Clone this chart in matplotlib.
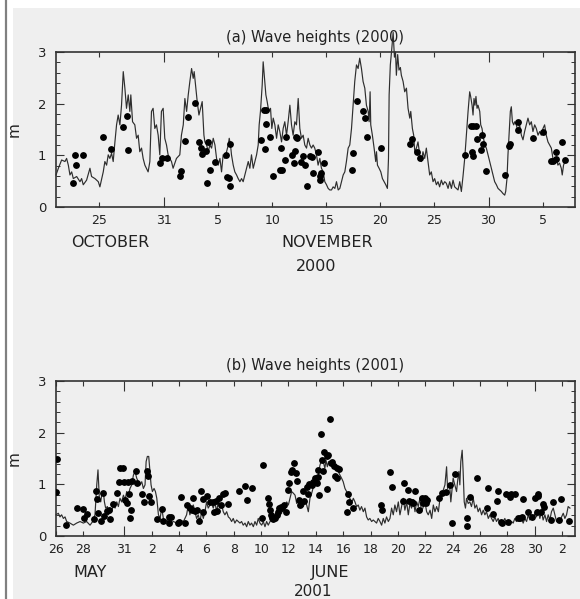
import numpy as np
import matplotlib
matplotlib.use("Agg")
import matplotlib.pyplot as plt
from matplotlib.patches import Rectangle
from matplotlib.lines import Line2D
from matplotlib.ticker import MultipleLocator
from datetime import datetime, timedelta

# ---- (a) autumn 2000: days since 21 Oct 2000 ----
start_a = datetime(2000, 10, 21)

a_line_day = [
    0.00, 0.22, 0.52, 0.83, 0.98, 1.14, 1.29, 1.45, 1.60, 1.91,
    2.22, 2.37, 2.52, 2.83, 3.14, 3.29, 3.60, 3.91, 4.06, 4.37,
    4.52, 4.68, 4.83, 4.98, 5.14, 5.29, 5.45, 5.60, 5.75, 5.91,
    6.06, 6.22, 6.37, 6.52, 6.68, 6.83, 6.92, 7.08, 7.29, 7.45,
    7.60, 7.75, 7.91, 8.06, 8.22, 8.52, 8.68, 8.83, 8.98, 9.14,
    9.29, 9.45, 9.60, 9.75, 9.91, 10.06, 10.22, 10.37, 10.52, 10.68,
    10.83, 11.14, 11.45, 11.60,
    11.77, 11.92, 12.08, 12.23, 12.38, 12.54, 12.69, 12.78, 12.94, 13.06,
    13.22, 13.37, 13.52, 13.68, 13.77, 13.93, 14.08, 14.23, 14.39, 14.54,
    14.70, 14.85, 15.00, 15.16, 15.31, 15.46, 15.62, 15.77, 15.93, 16.02,
    16.14, 16.23, 16.39, 16.54, 16.70, 16.85, 17.01, 17.16, 17.31, 17.47,
    17.62, 17.78, 17.93, 18.08, 18.24, 18.39, 18.55, 18.70, 18.79, 18.91,
    19.07, 19.16, 19.31, 19.41, 19.53, 19.68, 19.84, 19.96, 20.09, 20.24,
    20.40, 20.55, 20.70, 20.86, 21.01, 21.16, 21.32, 21.47, 21.63, 21.78,
    21.93, 22.09, 22.24, 22.40, 22.55, 22.70, 22.86, 23.01, 23.17, 23.32,
    23.48, 23.63, 23.78,
    23.93, 24.09, 24.24, 24.40, 24.55, 24.71, 24.86, 25.02, 25.17, 25.32,
    25.48, 25.63, 25.79, 25.94, 26.10, 26.25, 26.40, 26.56, 26.71, 26.86,
    27.02, 27.17, 27.33, 27.48, 27.63, 27.79, 27.94, 28.09, 28.25, 28.40,
    28.56, 28.71, 28.87, 28.96, 29.05, 29.11, 29.26, 29.42, 29.57, 29.64,
    29.73, 29.88, 30.04, 30.19, 30.35, 30.50, 30.65, 30.75, 30.81, 30.92,
    31.05, 31.18, 31.30, 31.40, 31.48, 31.60, 31.72, 31.85, 31.94, 32.10,
    32.25, 32.41, 32.56, 32.72, 32.81, 32.96, 33.08, 33.18, 33.33, 33.48,
    33.64, 33.79, 33.94, 34.10, 34.25, 34.41, 34.56, 34.71, 34.87, 35.02,
    35.18, 35.33, 35.48, 35.64, 35.79, 35.95,
    36.10, 36.26, 36.41, 36.57, 36.72, 36.87, 37.03, 37.18, 37.34, 37.49,
    37.64, 37.80, 37.95, 38.11, 38.26, 38.35, 38.48, 38.57, 38.66, 38.75,
    38.84, 38.94, 39.03, 39.19, 39.28, 39.40, 39.49, 39.65, 39.80, 39.96,
    40.11, 40.26, 40.42, 40.57, 40.73, 40.88, 41.04, 41.19, 41.34, 41.50,
    41.59, 41.71, 41.80, 41.90, 42.02, 42.11, 42.21, 42.33, 42.42, 42.57,
    42.73, 42.88, 43.04, 43.19, 43.34, 43.50, 43.65, 43.81, 43.96, 44.11,
    44.27, 44.42, 44.58, 44.73, 44.88, 45.04, 45.19, 45.34, 45.50, 45.65,
    45.81, 45.96, 46.11, 46.27, 46.42, 46.57, 46.73, 46.82, 46.94, 47.07,
]
a_line_hs = [
    0.62, 0.75, 0.91, 0.88, 0.94, 0.81, 0.62, 0.68, 0.55, 0.59,
    0.49, 0.55, 0.43, 0.52, 0.75, 0.59, 0.55, 0.49, 0.39, 0.68,
    0.88, 0.81, 1.01, 0.94, 1.04, 0.88, 1.26, 1.59, 1.78, 1.59,
    1.97, 2.62, 2.30, 1.91, 2.17, 1.85, 2.17, 1.65, 1.59, 1.33,
    1.39, 1.07, 1.14, 0.94, 0.81, 0.68, 0.88, 1.85, 1.91, 1.52,
    1.59, 1.39, 1.01, 1.85, 1.91, 1.33, 1.20, 1.01, 0.94, 0.88,
    0.75, 0.94, 1.01, 1.39,
    1.59, 2.10, 1.85, 2.17, 2.43, 2.68, 2.49, 2.62, 2.30, 2.04,
    1.78, 1.91, 2.04, 1.39, 1.26, 1.20, 1.07, 1.20, 1.14, 1.33,
    1.20, 0.94, 0.81, 0.94, 0.68, 1.01, 0.94, 1.07, 1.20, 1.33,
    1.20, 1.01, 0.81, 0.68, 0.62, 0.55, 0.49, 0.55, 0.49, 0.62,
    0.75, 0.88, 0.75, 1.01, 0.75, 0.88, 1.01, 1.20, 1.59, 1.85,
    2.36, 2.81, 2.43, 2.17, 2.04, 1.85, 1.91, 1.52, 1.72, 1.59,
    1.33, 1.59, 1.46, 1.26, 1.52, 1.65, 1.39, 1.65, 1.97, 1.59,
    1.39, 1.65, 1.59, 2.10, 1.52, 1.33, 1.39, 1.20, 1.14, 1.33,
    1.20, 1.14, 1.20,
    1.14, 1.01, 0.81, 0.94, 0.75, 0.68, 0.49, 0.43, 0.36, 0.33,
    0.33, 0.39, 0.36, 0.49, 0.33, 0.36, 0.49, 0.62, 0.68, 0.88,
    1.14, 1.20, 1.52, 1.97, 2.43, 2.75, 2.68, 2.88, 2.68, 2.43,
    2.30, 1.97, 1.85, 1.65, 2.23, 1.59, 1.39, 1.14, 0.88, 1.07,
    0.81, 0.75, 0.68, 0.55, 0.49, 0.43, 0.36, 0.94, 2.17, 2.75,
    3.05, 3.38, 2.90, 3.00, 2.55, 2.95, 2.65, 2.70, 2.55, 2.43,
    2.23, 2.30, 1.91, 1.72, 1.85, 1.52, 1.39, 1.07, 1.14, 1.26,
    1.01, 0.88, 1.07, 0.94, 1.14, 0.88, 0.62, 0.68, 0.49, 0.55,
    0.43, 0.49, 0.39, 0.52, 0.43, 0.49,
    0.46, 0.36, 0.49, 0.36, 0.52, 0.39, 0.36, 0.33, 0.49, 0.30,
    0.59, 0.94, 1.39, 1.85, 2.23, 2.14, 1.97, 1.78, 2.10, 1.97,
    2.14, 1.91, 1.97, 1.85, 1.59, 1.52, 1.39, 1.20, 1.14, 1.01,
    0.88, 0.75, 0.62, 0.49, 0.43, 0.36, 0.33, 0.30, 0.26, 0.23,
    0.30, 0.55, 1.01, 1.39, 1.85, 1.94, 1.65, 1.59, 1.65, 1.59,
    1.46, 1.59, 1.39, 1.30, 1.46, 1.59, 1.72, 1.59, 1.65, 1.46,
    1.59, 1.52, 1.39, 1.46, 1.39, 1.52, 1.59, 1.39, 1.26, 1.20,
    1.14, 0.94, 0.88, 0.94, 0.81, 0.85, 0.75, 0.62, 0.81, 0.88,
]

a_obs_day = [
    1.54, 1.79, 1.85, 2.53, 4.37, 5.08, 6.16, 6.59, 6.68, 9.61,
    9.76, 10.23, 11.46, 11.53, 11.96, 12.20, 12.84, 13.25, 13.40, 13.50,
    13.90, 14.10, 14.00, 14.20, 14.70, 15.70, 15.80, 16.00, 16.10, 16.10,
    19.00, 19.20, 19.40, 19.30, 19.45, 19.75, 20.10, 20.75, 20.90, 20.85,
    21.15, 21.30, 21.80, 22.00, 22.10, 22.20, 22.30, 22.70, 22.86, 23.01,
    23.17, 23.48, 23.72, 23.78, 24.24, 24.77, 24.55, 24.46, 24.40, 27.48,
    27.42, 27.88, 28.40, 28.62, 28.80, 30.04, 32.90, 32.77, 33.42, 33.67,
    37.86, 38.51, 38.57, 38.35, 38.57, 38.88, 38.94, 39.43, 39.52, 39.34,
    39.80, 41.52, 41.87, 41.96, 42.76, 42.73, 44.11, 45.04, 45.75, 45.96,
    46.27, 46.21, 46.83, 47.04,
]
a_obs_hs = [
    0.46, 1.01, 0.81, 1.00, 1.35, 1.13, 1.54, 1.77, 1.11, 0.85,
    0.94, 0.94, 0.60, 0.70, 1.28, 1.74, 2.02, 1.26, 1.14, 1.03,
    1.08, 1.26, 0.47, 0.72, 0.88, 1.00, 0.59, 0.57, 0.40, 1.21,
    1.29, 1.87, 1.87, 1.13, 1.61, 1.35, 0.60, 0.71, 0.71, 1.14,
    0.91, 1.36, 1.00, 0.86, 1.08, 1.36, 1.33, 0.88, 0.98, 0.81,
    0.40, 0.98, 0.97, 0.66, 1.06, 0.85, 0.66, 0.60, 0.52, 1.05,
    0.72, 2.05, 1.86, 1.72, 1.35, 1.15, 1.32, 1.21, 1.06, 0.94,
    1.01, 1.06, 0.99, 1.57, 1.57, 1.57, 1.31, 1.39, 1.21, 1.11,
    0.70, 0.62, 1.19, 1.22, 1.65, 1.49, 1.33, 1.45, 0.89, 0.89,
    0.92, 1.06, 1.25, 0.90,
]

a_ticks = [datetime(2000, 10, 25), datetime(2000, 10, 31), datetime(2000, 11, 5),
           datetime(2000, 11, 10), datetime(2000, 11, 15), datetime(2000, 11, 20),
           datetime(2000, 11, 25), datetime(2000, 11, 30), datetime(2000, 12, 5)]
a_ticklabels = ['25', '31', '5', '10', '15', '20', '25', '30', '5']

# ---- (b) early summer 2001: days since 26 May 2001 ----
start_b = datetime(2001, 5, 26)

b_line_day = [
    0.00, 0.17, 0.29, 0.41, 0.54, 0.66, 0.78, 1.02, 1.27, 1.51,
    1.76, 2.00, 2.24, 2.49, 2.68, 2.85, 2.98, 3.07, 3.17, 3.27,
    3.34, 3.46, 3.54, 3.63, 3.76, 3.83, 3.95, 4.07, 4.20, 4.32,
    4.44, 4.56, 4.68, 4.80, 4.93, 5.05, 5.17, 5.29, 5.41, 5.54,
    5.66, 5.78, 5.90, 6.02, 6.15, 6.27, 6.39, 6.51, 6.59, 6.68,
    6.78, 6.85, 6.95, 7.05, 7.17, 7.27, 7.37, 7.49, 7.61, 7.73,
    7.85, 7.98, 8.10, 8.34, 8.59, 8.83, 9.07, 9.32,
    9.55, 9.67, 9.79, 9.92, 10.04, 10.16, 10.28, 10.40, 10.53, 10.65,
    10.77, 10.89, 11.01, 11.13, 11.26, 11.38, 11.50, 11.62, 11.74, 11.87,
    11.99, 12.11, 12.23, 12.35, 12.48, 12.60, 12.72, 12.84, 12.96, 13.08,
    13.21, 13.33, 13.45, 13.57, 13.69, 13.82, 13.94, 14.06, 14.18, 14.30,
    14.43, 14.55, 14.67, 14.79, 14.91, 15.04, 15.16, 15.28, 15.40, 15.52,
    15.65, 15.77, 15.89, 16.01, 16.13, 16.26, 16.38, 16.50, 16.62, 16.74,
    16.87, 16.99, 17.11, 17.23, 17.35, 17.48, 17.60, 17.72, 17.84, 17.96,
    18.09, 18.21, 18.33, 18.45, 18.57, 18.70, 18.82,
    18.93, 19.05, 19.18, 19.30, 19.42, 19.54, 19.66, 19.74, 19.84, 19.93,
    20.03, 20.15, 20.27, 20.40, 20.52, 20.64, 20.76, 20.88, 21.00, 21.13,
    21.25, 21.37, 21.49, 21.61, 21.74, 21.86, 21.98, 22.10, 22.22, 22.34,
    22.47, 22.59, 22.71, 22.83, 22.95, 23.08, 23.20, 23.32, 23.44, 23.56,
    23.69, 23.81, 23.93, 24.05, 24.17, 24.30, 24.42, 24.54, 24.66, 24.78,
    24.90, 25.03, 25.15, 25.27, 25.39, 25.51, 25.64, 25.76, 25.88, 26.00,
    26.12, 26.25, 26.37, 26.49, 26.61, 26.73, 26.86, 26.98, 27.10, 27.22,
    27.35, 27.47, 27.59, 27.71, 27.83, 27.96, 28.08, 28.20, 28.32,
    28.44, 28.56, 28.63, 28.73, 28.80, 28.87, 28.97, 29.04, 29.16, 29.29,
    29.36, 29.46, 29.53, 29.60, 29.70, 29.77, 29.85, 29.94, 30.02, 30.14,
    30.26, 30.38, 30.51, 30.63, 30.75, 30.87, 30.99, 31.12, 31.24, 31.36,
    31.48, 31.61, 31.73, 31.85, 31.97, 32.09, 32.21, 32.33, 32.46, 32.58,
    32.70, 32.82, 32.94, 33.06, 33.19, 33.31, 33.43, 33.55, 33.67, 33.80,
    33.92, 34.04, 34.16, 34.28, 34.41, 34.53, 34.65, 34.77, 34.89, 35.02,
    35.14, 35.26, 35.38, 35.50, 35.62, 35.75, 35.87, 35.99, 36.11, 36.23,
    36.36, 36.48, 36.60, 36.72, 36.84, 36.97, 37.09, 37.21, 37.33, 37.45,
    37.58,
]
b_line_hs = [
    0.41, 0.44, 0.37, 0.41, 0.34, 0.37, 0.28, 0.25, 0.21, 0.25,
    0.28, 0.25, 0.28, 0.21, 0.28, 0.41, 0.99, 1.28, 0.73, 0.66,
    0.79, 0.86, 0.66, 0.54, 0.57, 0.41, 0.54, 0.47, 0.60, 0.54,
    0.66, 0.57, 0.73, 0.66, 0.79, 0.70, 0.86, 0.79, 0.92, 0.99,
    1.18, 1.25, 1.12, 1.05, 0.99, 1.05, 0.92, 0.99, 1.44, 1.54,
    1.54, 1.31, 0.99, 0.86, 0.92, 0.86, 0.73, 0.41, 0.34, 0.54,
    0.34, 0.28, 0.31, 0.25, 0.28, 0.25, 0.31, 0.28,
    0.41, 0.60, 0.41, 0.54, 0.60, 0.47, 0.34, 0.41, 0.28, 0.47,
    0.34, 0.47, 0.66, 0.54, 0.60, 0.63, 0.54, 0.66, 0.47, 0.66,
    0.54, 0.60, 0.47, 0.41, 0.47, 0.37, 0.34, 0.28, 0.34, 0.25,
    0.31, 0.28, 0.25, 0.28, 0.21, 0.25, 0.18, 0.28, 0.21, 0.25,
    0.18, 0.28, 0.21, 0.34, 0.25, 0.21, 0.28, 0.18, 0.28, 0.21,
    0.28, 0.31, 0.28, 0.34, 0.41, 0.37, 0.47, 0.44, 0.60, 0.54,
    0.66, 0.60, 0.73, 0.86, 0.83, 0.79, 0.63, 0.73, 0.60, 0.70,
    0.57, 0.66, 0.60, 0.47, 0.73, 0.83, 0.95,
    1.05, 1.12, 1.18, 1.37, 1.47, 1.44, 1.31, 1.47, 1.34, 1.44,
    1.37, 1.40, 1.34, 1.37, 1.31, 1.25, 1.18, 1.12, 1.05, 0.92,
    0.86, 0.79, 0.73, 0.63, 0.73, 0.66, 0.57, 0.60, 0.50, 0.57,
    0.47, 0.54, 0.37, 0.31, 0.34, 0.28, 0.31, 0.28, 0.25, 0.34,
    0.28, 0.21, 0.34, 0.25, 0.37, 0.28, 0.34, 0.54, 0.41, 0.60,
    0.47, 0.66, 0.41, 0.57, 0.73, 0.50, 0.66, 0.41, 0.63, 0.54,
    0.70, 0.47, 0.66, 0.57, 0.73, 0.47, 0.57, 0.66, 0.47, 0.41,
    0.50, 0.34, 0.60, 0.47, 0.57, 0.47, 0.73, 0.79, 0.89,
    0.99, 1.34, 0.92, 0.99, 0.92, 0.66, 0.92, 1.12, 0.99, 0.86,
    1.05, 1.25, 0.99, 1.44, 1.66, 1.25, 0.66, 0.54, 0.73, 0.63,
    0.66, 0.57, 0.73, 0.54, 0.60, 0.47, 0.54, 0.41, 0.50, 0.41,
    0.47, 0.34, 0.41, 0.34, 0.28, 0.37, 0.28, 0.34, 0.25, 0.31,
    0.28, 0.34, 0.25, 0.28, 0.21, 0.28, 0.25, 0.34, 0.28, 0.37,
    0.28, 0.34, 0.25, 0.34, 0.28, 0.41, 0.31, 0.41, 0.34, 0.44,
    0.37, 0.50, 0.34, 0.47, 0.31, 0.41, 0.28, 0.41, 0.31, 0.47,
    0.54, 0.41, 0.28, 0.34, 0.28, 0.37, 0.44, 0.34, 0.41, 0.57,
    0.54,
]

b_obs_day = [
    0.05, 0.00, 0.71, 1.51, 1.95, 2.07, 2.27, 2.80, 2.93, 3.00,
    3.10, 3.29, 3.41, 3.51, 3.71, 3.85, 3.95, 4.20, 4.49, 4.61,
    4.66, 4.90, 4.95, 5.07, 5.20, 5.27, 5.34, 5.44, 5.49, 5.54,
    5.85, 5.90, 6.32, 6.41, 6.63, 6.73, 6.83, 6.93, 7.41, 7.76,
    7.85, 8.27, 8.39, 8.27, 8.95, 9.17, 9.00, 9.40,
    9.60, 9.80, 9.92, 10.00, 10.16, 10.33, 10.48, 10.60, 10.72, 10.77,
    11.06, 11.26, 11.50, 11.57, 11.70, 11.74, 11.94, 12.04, 12.23, 12.36,
    12.60, 13.40, 13.84, 13.94, 14.33, 15.16, 15.09, 15.47, 15.59, 15.64,
    15.72, 15.79, 15.89, 16.01, 16.13, 16.20, 16.33, 16.45, 16.52, 16.67,
    16.81, 16.93, 17.06, 17.18, 17.28, 17.40, 17.54, 17.59, 17.74, 17.83,
    18.07, 18.13, 18.32, 18.44, 18.52, 18.69, 18.76, 18.93,
    19.05, 19.37, 20.03, 19.59, 19.42, 19.79, 19.91, 19.17, 19.13, 19.54,
    19.22, 19.84, 20.10, 20.18, 20.35, 20.52, 20.39, 20.58, 20.71, 21.32,
    21.25, 21.42, 21.74, 23.74, 23.83, 24.41, 24.59, 25.44, 25.75, 25.34,
    25.83, 26.00, 26.24, 26.12, 26.73, 26.98, 27.14, 26.85, 26.56, 27.09,
    27.99,
    28.19, 28.51, 28.80, 28.92, 29.16, 30.02, 30.07, 30.26, 30.75, 31.48,
    31.60, 31.97, 32.26, 32.33, 32.51, 32.58, 32.87, 33.06, 33.19, 33.26,
    33.55, 33.75, 33.92, 34.04, 34.16, 34.48, 34.77, 35.02, 35.14, 35.21,
    35.26, 35.50, 35.62, 35.67, 36.16, 36.36, 36.80, 36.92, 37.53,
]
b_obs_hs = [
    1.50, 0.85, 0.22, 0.55, 0.52, 0.34, 0.43, 0.33, 0.87, 0.72,
    0.44, 0.29, 0.84, 0.38, 0.48, 0.50, 0.33, 0.62, 0.83, 1.04,
    1.31, 1.31, 1.04, 0.69, 0.63, 1.04, 0.82, 0.35, 0.51, 1.06,
    1.25, 1.02, 0.81, 0.65, 1.26, 1.17, 0.77, 0.65, 0.32, 0.52,
    0.30, 0.37, 0.37, 0.26, 0.25, 0.76, 0.28, 0.25,
    0.60, 0.54, 0.50, 0.74, 0.48, 0.51, 0.30, 0.87, 0.72, 0.47,
    0.77, 0.66, 0.65, 0.46, 0.68, 0.48, 0.73, 0.60, 0.82, 0.83,
    0.62, 0.87, 0.97, 0.69, 0.92, 1.37, 0.35, 0.73, 0.62, 0.51,
    0.41, 0.35, 0.33, 0.35, 0.41, 0.47, 0.54, 0.57, 0.54, 0.60,
    0.47, 0.89, 1.02, 1.23, 1.28, 1.41, 1.21, 1.07, 0.70, 0.60,
    0.88, 0.68, 0.95, 0.81, 1.01, 0.99, 1.04, 1.13,
    1.02, 1.97, 2.26, 1.63, 1.47, 1.55, 1.57, 1.28, 1.15, 1.25,
    0.79, 0.91, 1.41, 1.43, 1.36, 1.31, 1.17, 1.12, 1.30, 0.81,
    0.47, 0.66, 0.55, 0.60, 0.50, 1.23, 0.94, 1.02, 0.90, 0.68,
    0.68, 0.66, 0.88, 0.63, 0.74, 0.73, 0.70, 0.63, 0.50, 0.63,
    0.73,
    0.83, 0.86, 0.99, 0.26, 1.20, 0.20, 0.35, 0.76, 1.12, 0.54,
    0.92, 0.42, 0.68, 0.87, 0.28, 0.26, 0.82, 0.28, 0.75, 0.81,
    0.81, 0.35, 0.35, 0.37, 0.71, 0.47, 0.37, 0.74, 0.47, 0.82,
    0.77, 0.46, 0.61, 0.57, 0.31, 0.66, 0.31, 0.72, 0.30,
]

b_ticks = [datetime(2001, 5, 26), datetime(2001, 5, 28), datetime(2001, 5, 31)] + \
          [datetime(2001, 6, d) for d in range(2, 31, 2)] + [datetime(2001, 7, 2)]
b_ticklabels = ['26', '28', '31'] + [str(d) for d in range(2, 31, 2)] + ['2']

W, H = 580, 599
BG = '#efefef'
INK = '#222222'


def dates(start, days):
    return [start + timedelta(days=d) for d in days]


def fx(px):
    return px / W


def fy(py):
    return 1 - py / H


fig = plt.figure(figsize=(W / 100, H / 100), dpi=100)
fig.patch.set_facecolor('white')
fig.add_artist(Rectangle((fx(13), 0), 1, fy(8), transform=fig.transFigure,
                         facecolor=BG, edgecolor='none', zorder=-10))
fig.add_artist(Line2D([fx(6), fx(6)], [0, 1], transform=fig.transFigure,
                      color='#808080', lw=1.6))


def panel(rect, start, span, ticks, labels, long_idx,
          line_day, line_hs, obs_day, obs_hs):
    ax = fig.add_axes(rect)
    ax.set_facecolor(BG)
    ax.plot(dates(start, line_day), line_hs, color='#2e2e2e', lw=0.85,
            clip_on=False, zorder=2)
    ax.plot(dates(start, obs_day), obs_hs, 'o', color='black', ms=3.9,
            mec='black', zorder=3)
    ax.set_xlim(start, start + timedelta(days=span))
    ax.set_ylim(0, 3)
    ax.set_xticks(ticks)
    ax.set_xticklabels(labels)
    ax.set_yticks([0, 1, 2, 3])
    ax.yaxis.set_minor_locator(MultipleLocator(0.2))
    ax.tick_params(which='both', direction='in', top=True, right=True,
                   color='#333333', labelcolor=INK)
    ax.tick_params(axis='x', which='major', length=3.5, width=0.8, pad=5, labelsize=9)
    ax.tick_params(axis='y', which='major', length=6, width=0.8, pad=7, labelsize=9.5)
    ax.tick_params(axis='y', which='minor', length=3, width=0.7)
    # month boundaries get the longer ticks
    for i, t in enumerate(ax.xaxis.get_major_ticks()):
        if i in long_idx:
            t.tick1line.set_markersize(7)
            t.tick2line.set_markersize(7)
    for s in ax.spines.values():
        s.set_color('#333333')
        s.set_linewidth(1.2)
    ax.set_ylabel('m', fontsize=11, color=INK)
    ax.yaxis.set_label_coords((22 - 56) / 519, 0.5)
    return ax


ax_a = panel([fx(56), fy(207), 519 / W, 155 / H], start_a, 48.0,
             a_ticks, a_ticklabels, [1, 7],
             a_line_day, a_line_hs, a_obs_day, a_obs_hs)
ax_b = panel([fx(56), fy(536), 519 / W, 155 / H], start_b, 37.95,
             b_ticks, b_ticklabels, [2, 17],
             b_line_day, b_line_hs, b_obs_day, b_obs_hs)

fig.text(fx(315.5), fy(41.7), '(a) Wave heights (2000)', ha='center', va='baseline',
         fontsize=10.5, color=INK)
fig.text(fx(315.5), fy(370), '(b) Wave heights (2001)', ha='center', va='baseline',
         fontsize=10.5, color=INK)

fig.text(fx(110), fy(247), 'OCTOBER', ha='center', va='baseline', fontsize=11.5, color=INK)
fig.text(fx(327), fy(247), 'NOVEMBER', ha='center', va='baseline', fontsize=11.5, color=INK)
fig.text(fx(316), fy(271), '2000', ha='center', va='baseline', fontsize=11.5, color=INK)
fig.text(fx(90), fy(577), 'MAY', ha='center', va='baseline', fontsize=11.5, color=INK)
fig.text(fx(330), fy(577), 'JUNE', ha='center', va='baseline', fontsize=11.5, color=INK)
fig.text(fx(313), fy(598.5), '2001', ha='center', va='bottom', fontsize=11, color=INK)

fig.savefig('out.png', dpi=100, facecolor=fig.get_facecolor())
